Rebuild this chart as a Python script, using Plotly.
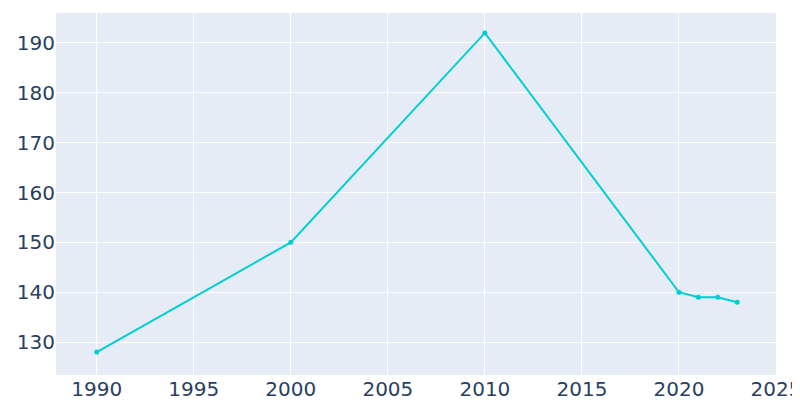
import plotly.graph_objects as go

years = [1990, 2000, 2010, 2020, 2021, 2022, 2023]
population = [128, 150, 192, 140, 139, 139, 138]

fig = go.Figure(go.Scatter(x=years, y=population, mode="lines+markers",
                           line=dict(color="#00ced1", width=2), marker=dict(size=5)))
fig.update_layout(width=800, height=400, template="plotly",
                  margin=dict(l=48, r=32, t=5, b=33, autoexpand=False),
                  font=dict(family="DejaVu Sans", size=20, color="#2a3f5f"),
                  showlegend=False)
fig.update_xaxes(range=[1987.9, 2025], dtick=5, automargin=False)
fig.update_yaxes(range=[123.4, 196], dtick=10, automargin=False)
fig.write_html("out.html")
